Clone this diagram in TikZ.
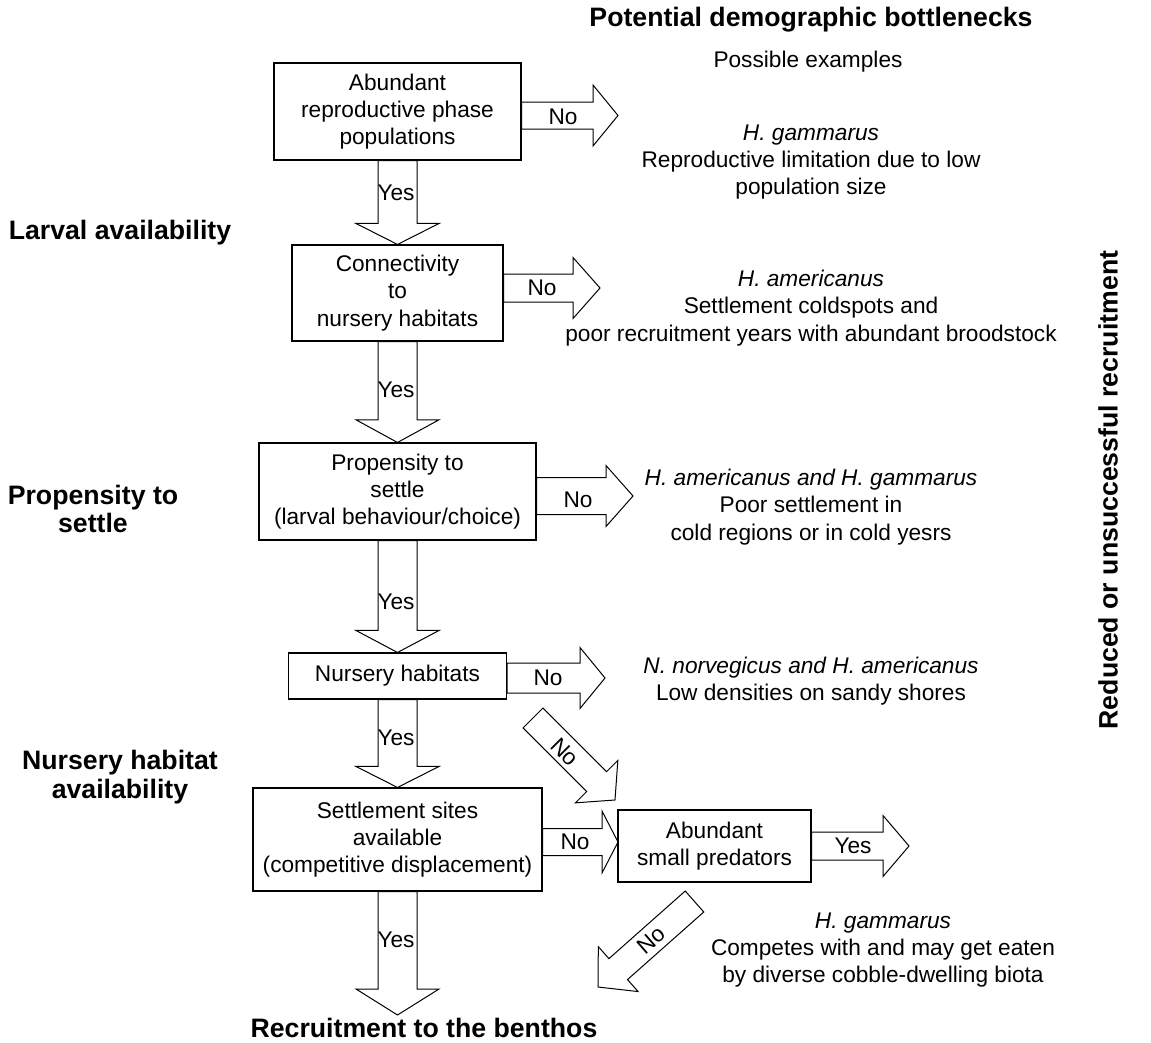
\documentclass[tikz,border=0pt]{standalone}
\usepackage{fontspec}
\setmainfont{Liberation Sans}
\usetikzlibrary{calc}

% Outlined block arrow from #2 to #3:
% #4 half shaft width, #5 half head width, #6 head length
\newcommand\blockarrow[6][]{%
  \coordinate (ba-s) at (#2);
  \coordinate (ba-t) at (#3);
  \coordinate (ba-n) at ($(ba-t)!#6!(ba-s)$);
  \draw[blockarr,#1]
    ($(ba-s)!#4!90:(ba-t)$) -- ($(ba-n)!#4!-90:(ba-s)$) --
    ($(ba-n)!#5!-90:(ba-s)$) -- (ba-t) --
    ($(ba-n)!#5!90:(ba-s)$) -- ($(ba-n)!#4!90:(ba-s)$) --
    ($(ba-s)!#4!-90:(ba-t)$) -- cycle;
}

\tikzset{
  box/.style={draw, line width=0.8pt, align=center, inner sep=0pt,
    font=\fontsize{17}{20.4}\selectfont},
  sz/.style 2 args={minimum width=#1*0.75pt, minimum height=#2*0.75pt},
  blockarr/.style={draw, line width=0.75pt, line join=miter},
  lbl/.style={inner sep=0pt, font=\fontsize{17}{20.4}\selectfont},
  note/.style={inner sep=0pt, align=center, font=\fontsize{17}{20.4}\selectfont},
  head/.style={inner sep=0pt, align=center, font=\fontsize{20}{21.4}\selectfont\bfseries},
}

\begin{document}
\begin{tikzpicture}[x=0.75pt, y=-0.75pt]
\useasboundingbox (0,0) rectangle (1151,1042);

% decision boxes
\node[box, sz={247}{97}]  (b1) at (397.5,111.5) {Abundant\\reproductive phase\\populations};
\node[box, sz={211}{96}]  (b2) at (397.5,293)   {Connectivity\\to\\nursery habitats};
\node[box, sz={277}{97}]  (b3) at (397.5,491.5) {Propensity to\\settle\\(larval behaviour/choice)};
\node[box, sz={218}{46}]  (b4) at (397.5,676)   {Nursery habitats};
\node[box, sz={289}{103}] (b5) at (397.5,839.5) {Settlement sites\\available\\(competitive displacement)};
\node[box, sz={193}{72}]  (b6) at (714.5,846)   {Abundant\\small predators};

% free ends of the outgoing arrows
\coordinate (n1) at (618,115.5);
\coordinate (n2) at (600,288);
\coordinate (n3) at (633,496);
\coordinate (n4) at (605,678);
\coordinate (n5) at (618,842);
\coordinate (y6) at (909,846);
\coordinate (y5) at (397.5,1015);
\coordinate (da-s) at (533,718);
\coordinate (da-t) at (615,800);
\coordinate (db-s) at (694.5,901.5);
\coordinate (db-t) at (598,987);

% "Yes" arrows down the chain
\blockarrow{b1.south}{b2.north}{14.625pt}{31.125pt}{15.75pt}
\blockarrow{b2.south}{b3.north}{14.625pt}{31.125pt}{17pt}
\blockarrow{b3.south}{b4.north}{14.625pt}{31.125pt}{16.5pt}
\blockarrow{b4.south}{b5.north}{14.625pt}{31.125pt}{15.75pt}
\blockarrow{b5.south}{y5}{14.625pt}{31.125pt}{19.5pt}

% "No" arrows to the right
\blockarrow{b1.east |- n1}{n1}{10.125pt}{22.875pt}{18.75pt}
\blockarrow{b2.east |- n2}{n2}{10.5pt}{22.875pt}{20.25pt}
\blockarrow{b3.east |- n3}{n3}{13.875pt}{22.875pt}{20.25pt}
\blockarrow{b4.east |- n4}{n4}{11.25pt}{22.875pt}{18.75pt}
\blockarrow{b5.east |- n5}{n5}{10.125pt}{23.25pt}{12pt}
\blockarrow{b6.east |- y6}{y6}{10.5pt}{22.875pt}{19.5pt}

% diagonal arrows
\blockarrow{da-s}{da-t}{10.5pt}{22.5pt}{19.5pt}
\blockarrow{db-s}{db-t}{10.5pt}{22.5pt}{20.25pt}

% arrow labels
\node[lbl] (ly1) at (396,193) {Yes};
\node[lbl] (ly2) at (396,390) {Yes};
\node[lbl] (ly3) at (396,602) {Yes};
\node[lbl] (ly4) at (396,738) {Yes};
\node[lbl] (ly5) at (396,940) {Yes};
\node[lbl] (ln1) at (563,117) {No};
\node[lbl] (ln2) at (542,288) {No};
\node[lbl] (ln3) at (578,500) {No};
\node[lbl] (ln4) at (548,678) {No};
\node[lbl] (ln5) at (575,842) {No};
\node[lbl] (ly6) at (853,846) {Yes};
\node[lbl, rotate=-45] (lda) at (565,752) {No};
\node[lbl, rotate=41]  (ldb) at (651,940) {No};

% headings
\node[head] (t1) at (811,20) {Potential demographic bottlenecks};
\node[note] (t2) at (808,62) {Possible examples};
\node[head] (t3) at (1108,490) [rotate=90] {Reduced or unsuccessful recruitment};
\node[head] (t4) at (424,1028) {Recruitment to the benthos};

% stage labels on the left
\node[head] (s1) at (120,233) {Larval availability};
\node[head] (s2) at (93,509)  {Propensity to\\settle};
\node[head] (s3) at (120,777) {Nursery habitat\\availability};

% examples
\node[note] (e1) at (811,162) {\textit{H. gammarus}\\Reproductive limitation due to low\\population size};
\node[note] (e2) at (811,308) {\textit{H. americanus}\\Settlement coldspots and\\poor recruitment years with abundant broodstock};
\node[note] (e3) at (811,507) {\textit{H. americanus and H. gammarus}\\Poor settlement in\\cold regions or in cold yesrs};
\node[note] (e4) at (811,681.5) {\textit{N. norvegicus and H. americanus}\\Low densities on sandy shores};
\node[note] (e5) at (883,950) {\textit{H. gammarus}\\Competes with and may get eaten\\by diverse cobble-dwelling biota};
\end{tikzpicture}
\end{document}
